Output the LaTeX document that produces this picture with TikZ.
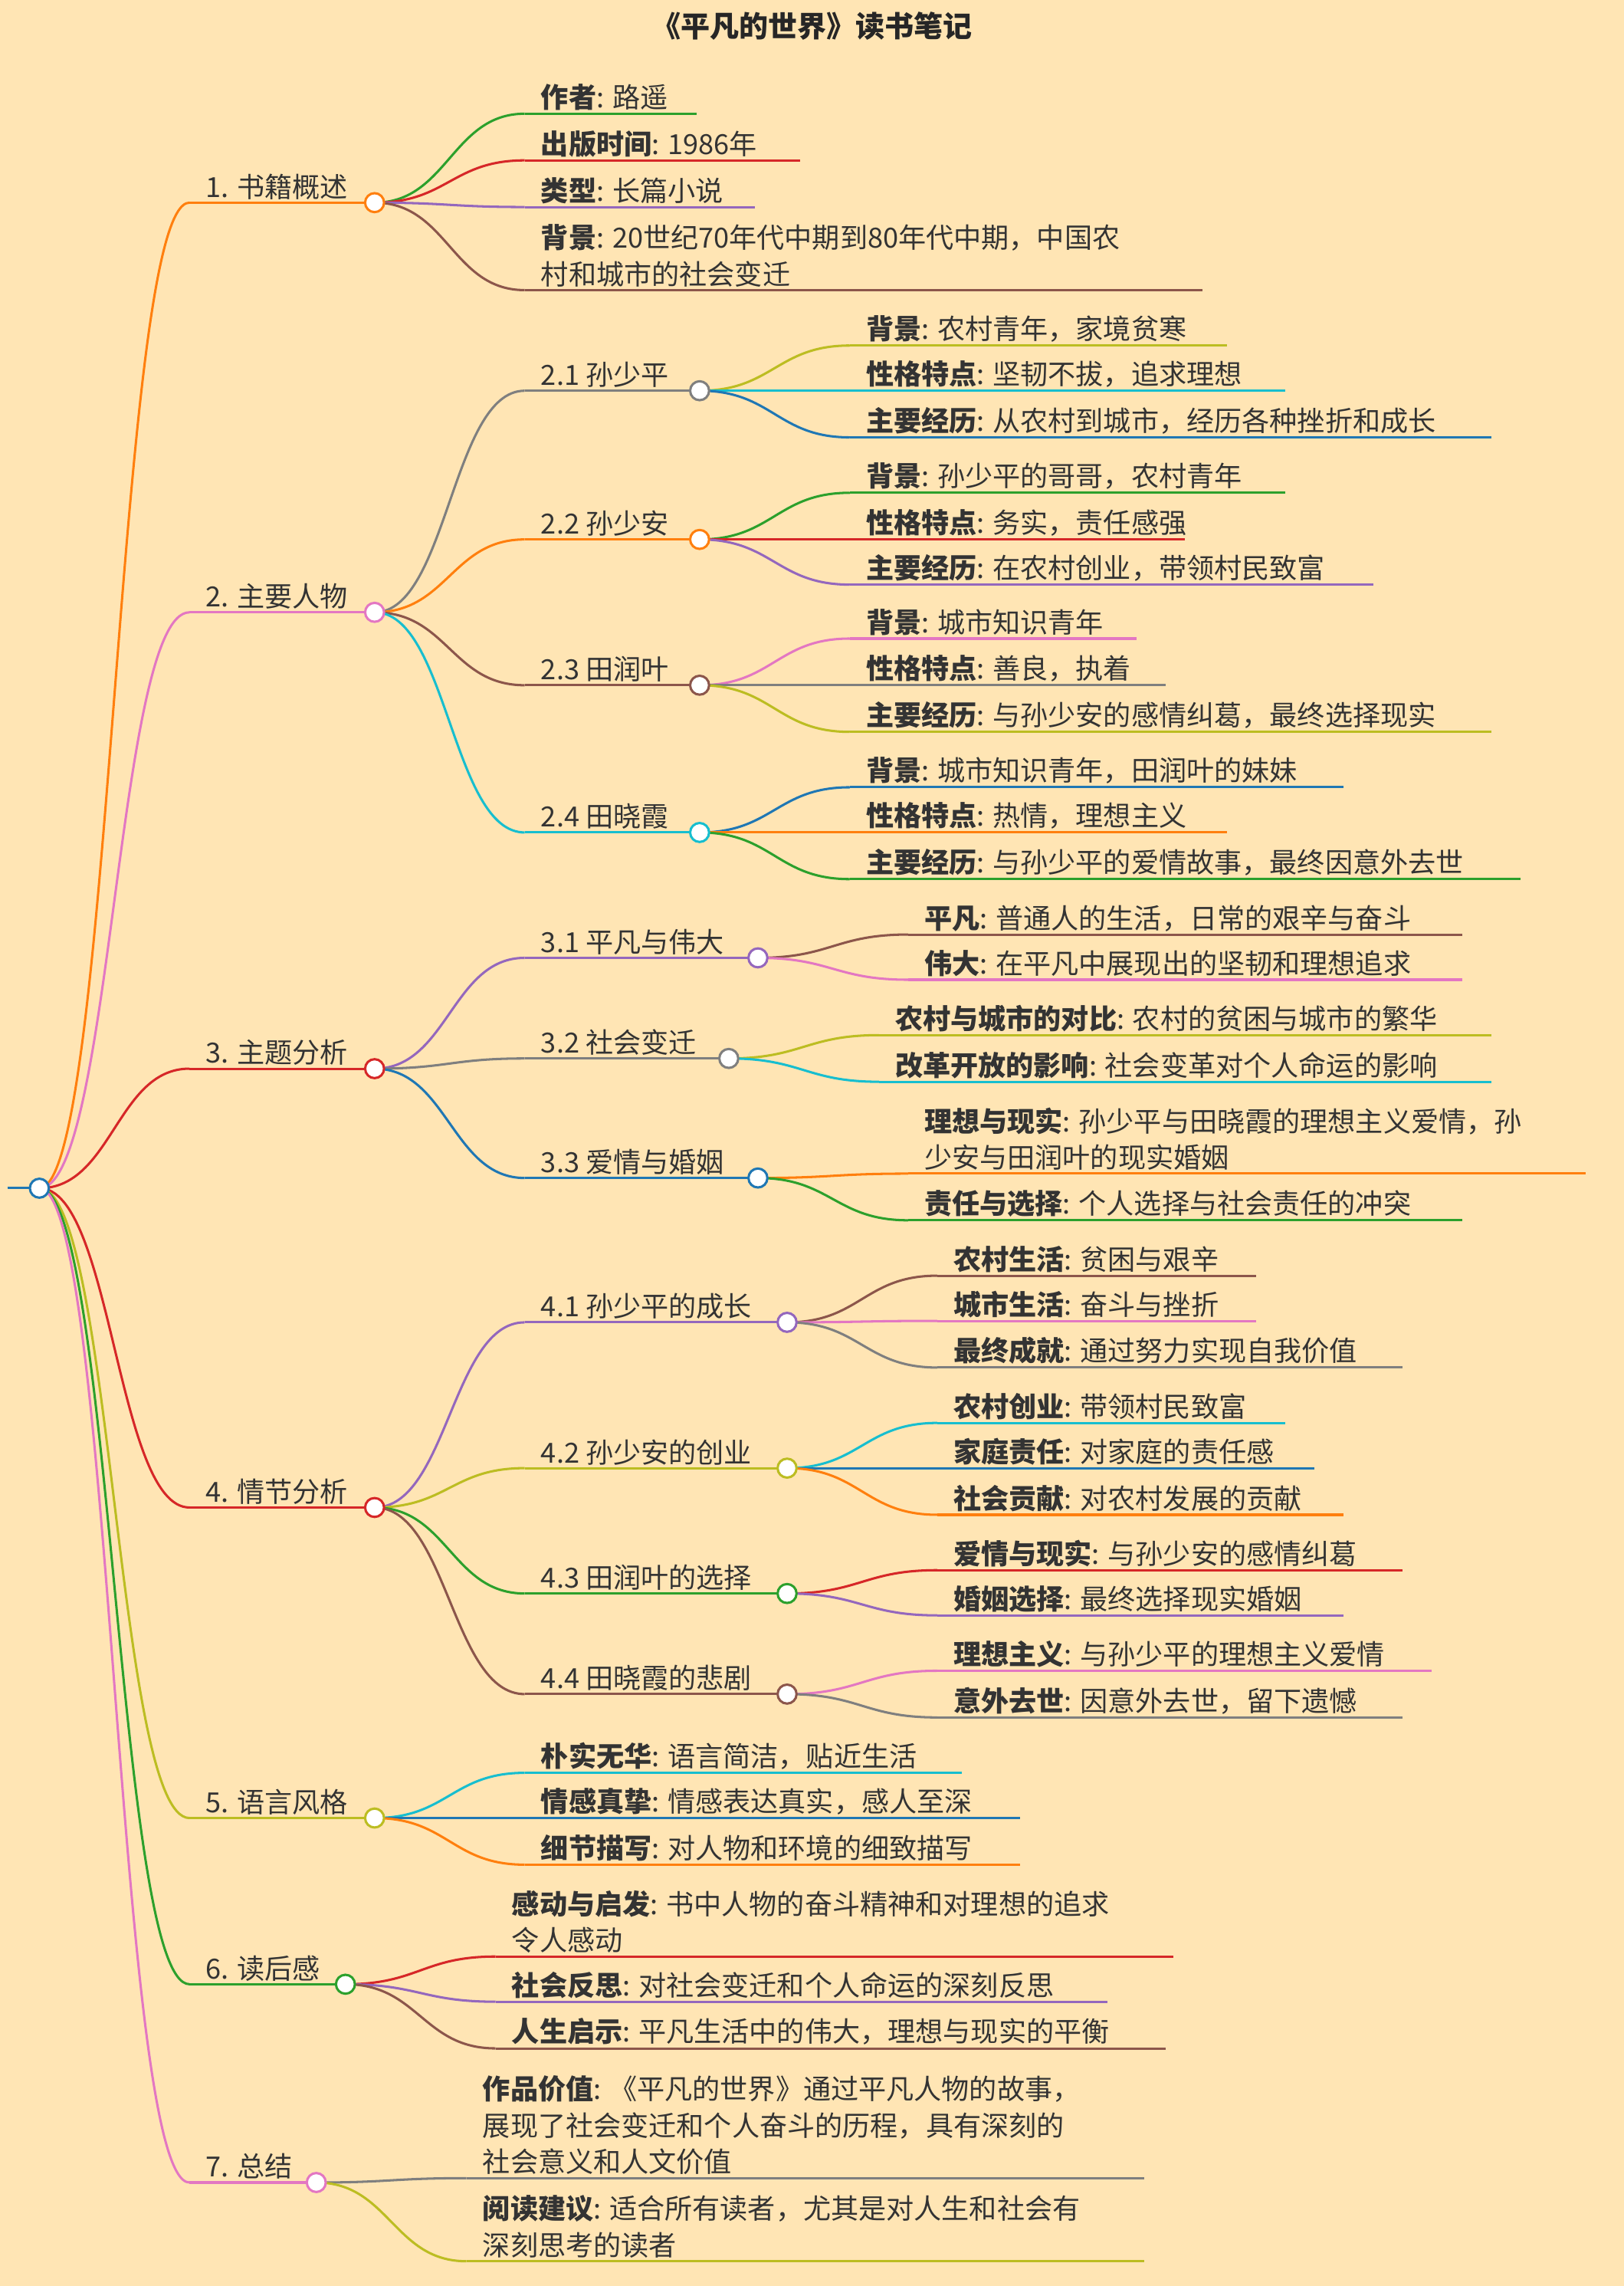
\documentclass[tikz,border=0pt]{standalone}
\usepackage{fontspec}
\setmainfont{Noto Sans CJK SC}
\usetikzlibrary{calc}

\definecolor{mblue}{HTML}{1F77B4}
\definecolor{morange}{HTML}{FF7F0E}
\definecolor{mgreen}{HTML}{2CA02C}
\definecolor{mred}{HTML}{D62728}
\definecolor{mpurple}{HTML}{9467BD}
\definecolor{mbrown}{HTML}{8C564B}
\definecolor{mpink}{HTML}{E377C2}
\definecolor{mgrey}{HTML}{7F7F7F}
\definecolor{molive}{HTML}{BCBD22}
\definecolor{mcyan}{HTML}{17BECF}
\definecolor{paper}{HTML}{FFE5B4}

\tikzset{
    mmline/.style={line width=1.6pt},
    mmtext/.style={anchor=south west, inner sep=1pt, align=left, text=black!80,
        font=\fontsize{19}{25}\selectfont},
    mmdot/.style={mmline, fill=white}
}

% name, colour, parent, text x, end x, y, text
\newcommand{\mmnode}[7]{%
    \coordinate (#1-s) at (#4-10,#6);
    \coordinate (#1-e) at (#5,#6);
    \draw [#2, mmline] (#1-s) -- (#1-e);
    \draw [#2, mmline] (#3-e) .. controls ($(#3-e)+(50,0)$) and ($(#1-s)+(-50,0)$) .. (#1-s);
    \node [mmtext] (#1) at (#4,#6-1) {#7};
}
\newcommand{\mmcircle}[2]{\draw [#2, mmdot] (#1-e) circle (6.5);}

\begin{document}
\begin{tikzpicture}[x=1pt, y=-1pt]

\fill [paper] (0,0) rectangle (1114,1568);
\useasboundingbox (0,0) rectangle (1114,1568);

\node [font=\fontsize{20}{24}\selectfont\bfseries, text=black!85] (title) at (557,18) {《平凡的世界》读书笔记};

% Root
\coordinate (root-e) at (27,815);
\draw [mblue, mmline] (5,815) -- (root-e);

% 1
\mmnode{b1}{morange}{root}{140}{257}{139}{1. 书籍概述}
\mmnode{b11}{mgreen}{b1}{370}{478}{78}{\textbf{作者}: 路遥}
\mmnode{b12}{mred}{b1}{370}{549}{110}{\textbf{出版时间}: 1986年}
\mmnode{b13}{mpurple}{b1}{370}{518}{142}{\textbf{类型}: 长篇小说}
\mmnode{b14}{mbrown}{b1}{370}{825}{199}{\textbf{背景}: 20世纪70年代中期到80年代中期，中国农\\村和城市的社会变迁}

% 2
\mmnode{b2}{mpink}{root}{140}{257}{420}{2. 主要人物}
\mmnode{b21}{mgrey}{b2}{370}{480}{268}{2.1 孙少平}
\mmnode{b211}{molive}{b21}{593}{842}{237}{\textbf{背景}: 农村青年，家境贫寒}
\mmnode{b212}{mcyan}{b21}{593}{882}{268}{\textbf{性格特点}: 坚韧不拔，追求理想}
\mmnode{b213}{mblue}{b21}{593}{1023}{300}{\textbf{主要经历}: 从农村到城市，经历各种挫折和成长}
\mmnode{b22}{morange}{b2}{370}{480}{370}{2.2 孙少安}
\mmnode{b221}{mgreen}{b22}{593}{882}{338}{\textbf{背景}: 孙少平的哥哥，农村青年}
\mmnode{b222}{mred}{b22}{593}{813}{370}{\textbf{性格特点}: 务实，责任感强}
\mmnode{b223}{mpurple}{b22}{593}{942}{401}{\textbf{主要经历}: 在农村创业，带领村民致富}
\mmnode{b23}{mbrown}{b2}{370}{480}{470}{2.3 田润叶}
\mmnode{b231}{mpink}{b23}{593}{780}{438}{\textbf{背景}: 城市知识青年}
\mmnode{b232}{mgrey}{b23}{593}{800}{470}{\textbf{性格特点}: 善良，执着}
\mmnode{b233}{molive}{b23}{593}{1023}{502}{\textbf{主要经历}: 与孙少安的感情纠葛，最终选择现实}
\mmnode{b24}{mcyan}{b2}{370}{480}{571}{2.4 田晓霞}
\mmnode{b241}{mblue}{b24}{593}{922}{540}{\textbf{背景}: 城市知识青年，田润叶的妹妹}
\mmnode{b242}{morange}{b24}{593}{842}{571}{\textbf{性格特点}: 热情，理想主义}
\mmnode{b243}{mgreen}{b24}{593}{1043}{603}{\textbf{主要经历}: 与孙少平的爱情故事，最终因意外去世}

% 3
\mmnode{b3}{mred}{root}{140}{257}{733}{3. 主题分析}
\mmnode{b31}{mpurple}{b3}{370}{520}{657}{3.1 平凡与伟大}
\mmnode{b311}{mbrown}{b31}{633}{1003}{641}{\textbf{平凡}: 普通人的生活，日常的艰辛与奋斗}
\mmnode{b312}{mpink}{b31}{633}{1003}{672}{\textbf{伟大}: 在平凡中展现出的坚韧和理想追求}
\mmnode{b32}{mgrey}{b3}{370}{500}{726}{3.2 社会变迁}
\mmnode{b321}{molive}{b32}{613}{1023}{710}{\textbf{农村与城市的对比}: 农村的贫困与城市的繁华}
\mmnode{b322}{mcyan}{b32}{613}{1023}{742}{\textbf{改革开放的影响}: 社会变革对个人命运的影响}
\mmnode{b33}{mblue}{b3}{370}{520}{808}{3.3 爱情与婚姻}
\mmnode{b331}{morange}{b33}{633}{1088}{805}{\textbf{理想与现实}: 孙少平与田晓霞的理想主义爱情，孙\\少安与田润叶的现实婚姻}
\mmnode{b332}{mgreen}{b33}{633}{1003}{837}{\textbf{责任与选择}: 个人选择与社会责任的冲突}

% 4
\mmnode{b4}{mred}{root}{140}{257}{1034}{4. 情节分析}
\mmnode{b41}{mpurple}{b4}{370}{540}{907}{4.1 孙少平的成长}
\mmnode{b411}{mbrown}{b41}{653}{862}{875}{\textbf{农村生活}: 贫困与艰辛}
\mmnode{b412}{mpink}{b41}{653}{862}{906}{\textbf{城市生活}: 奋斗与挫折}
\mmnode{b413}{mgrey}{b41}{653}{962}{938}{\textbf{最终成就}: 通过努力实现自我价值}
\mmnode{b42}{molive}{b4}{370}{540}{1007}{4.2 孙少安的创业}
\mmnode{b421}{mcyan}{b42}{653}{882}{976}{\textbf{农村创业}: 带领村民致富}
\mmnode{b422}{mblue}{b42}{653}{902}{1007}{\textbf{家庭责任}: 对家庭的责任感}
\mmnode{b423}{morange}{b42}{653}{922}{1039}{\textbf{社会贡献}: 对农村发展的贡献}
\mmnode{b43}{mgreen}{b4}{370}{540}{1093}{4.3 田润叶的选择}
\mmnode{b431}{mred}{b43}{653}{962}{1077}{\textbf{爱情与现实}: 与孙少安的感情纠葛}
\mmnode{b432}{mpurple}{b43}{653}{922}{1108}{\textbf{婚姻选择}: 最终选择现实婚姻}
\mmnode{b44}{mbrown}{b4}{370}{540}{1162}{4.4 田晓霞的悲剧}
\mmnode{b441}{mpink}{b44}{653}{982}{1146}{\textbf{理想主义}: 与孙少平的理想主义爱情}
\mmnode{b442}{mgrey}{b44}{653}{962}{1178}{\textbf{意外去世}: 因意外去世，留下遗憾}

% 5
\mmnode{b5}{molive}{root}{140}{257}{1247}{5. 语言风格}
\mmnode{b51}{mcyan}{b5}{370}{660}{1216}{\textbf{朴实无华}: 语言简洁，贴近生活}
\mmnode{b52}{mblue}{b5}{370}{700}{1247}{\textbf{情感真挚}: 情感表达真实，感人至深}
\mmnode{b53}{morange}{b5}{370}{700}{1279}{\textbf{细节描写}: 对人物和环境的细致描写}

% 6
\mmnode{b6}{mgreen}{root}{140}{237}{1361}{6. 读后感}
\mmnode{b61}{mred}{b6}{350}{805}{1342}{\textbf{感动与启发}: 书中人物的奋斗精神和对理想的追求\\令人感动}
\mmnode{b62}{mpurple}{b6}{350}{760}{1373}{\textbf{社会反思}: 对社会变迁和个人命运的深刻反思}
\mmnode{b63}{mbrown}{b6}{350}{800}{1405}{\textbf{人生启示}: 平凡生活中的伟大，理想与现实的平衡}

% 7
\mmnode{b7}{mpink}{root}{140}{217}{1497}{7. 总结}
\mmnode{b71}{mgrey}{b7}{330}{785}{1494}{\textbf{作品价值}: 《平凡的世界》通过平凡人物的故事，\\展现了社会变迁和个人奋斗的历程，具有深刻的\\社会意义和人文价值}
\mmnode{b72}{molive}{b7}{330}{785}{1551}{\textbf{阅读建议}: 适合所有读者，尤其是对人生和社会有\\深刻思考的读者}

% Circles
\mmcircle{root}{mblue}
\foreach \n/\c in {b1/morange, b2/mpink, b21/mgrey, b22/morange, b23/mbrown, b24/mcyan,
    b3/mred, b31/mpurple, b32/mgrey, b33/mblue, b4/mred, b41/mpurple, b42/molive,
    b43/mgreen, b44/mbrown, b5/molive, b6/mgreen, b7/mpink}
    {\mmcircle{\n}{\c}}

\end{tikzpicture}
\end{document}
